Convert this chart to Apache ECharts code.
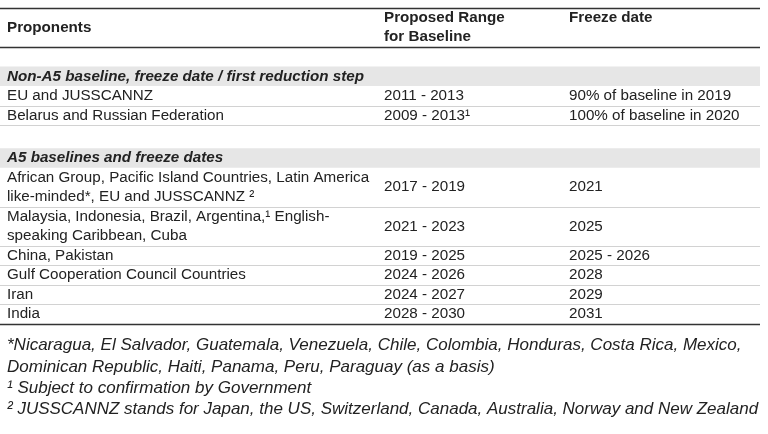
<!DOCTYPE html>
<html>
<head>
<meta charset="utf-8">
<script src="https://cdn.jsdelivr.net/npm/echarts@6/dist/echarts.min.js"></script>
<style>
  html, body { margin: 0; padding: 0; background: #fff; }
  #chart-container { width: 768px; height: 434px; }
</style>
</head>
<body>
<div id="chart-container"></div>
<script>
// --- table content ---
const columnTitles = ['Proponents', 'Proposed Range\nfor Baseline', 'Freeze date'];
const sectionTitles = [
  'Non-A5 baseline, freeze date / first reduction step',
  'A5 baselines and freeze dates'
];
const proponents = [
  'EU and JUSSCANNZ',
  'Belarus and Russian Federation',
  'African Group, Pacific Island Countries, Latin America\nlike-minded*, EU and JUSSCANNZ \u00b2',
  'Malaysia, Indonesia, Brazil, Argentina,\u00b9 English-\nspeaking Caribbean, Cuba',
  'China, Pakistan',
  'Gulf Cooperation Council Countries',
  'Iran',
  'India'
];
const baselineRanges = [
  '2011 - 2013', '2009 - 2013\u00b9', '2017 - 2019', '2021 - 2023',
  '2019 - 2025', '2024 - 2026', '2024 - 2027', '2028 - 2030'
];
const freezeDates = [
  '90% of baseline in 2019', '100% of baseline in 2020', '2021', '2025',
  '2025 - 2026', '2028', '2029', '2031'
];
const rowSection = [0, 0, 1, 1, 1, 1, 1, 1];
const footnotes = [
  '*Nicaragua, El Salvador, Guatemala, Venezuela, Chile, Colombia, Honduras, Costa Rica, Mexico,',
  'Dominican Republic, Haiti, Panama, Peru, Paraguay (as a basis)',
  '\u00b9 Subject to confirmation by Government',
  '\u00b2 JUSSCANNZ stands for Japan, the US, Switzerland, Canada, Australia, Norway and New Zealand'
];

// --- layout (x in table pixels, y in text-line units) ---
const tableWidth = 760;
const colX = [7, 384, 569];
const sectionGaps = [1, 1.18]; // blank space above each section band
const font = '"Liberation Sans", Arial, sans-serif';
const textColor = '#222';

function lineCount(s) { return s.split('\n').length; }

// Builds the list of table blocks stacked top to bottom
const layout = [];
let cursor = 0;
layout.push({ kind: 'header', y0: cursor, y1: cursor + 2 });
cursor += 2;
for (let s = 0; s < sectionTitles.length; s++) {
  cursor += sectionGaps[s];
  layout.push({ kind: 'section', idx: s, y0: cursor, y1: cursor + 1 });
  cursor += 1;
  for (let i = 0; i < proponents.length; i++) {
    if (rowSection[i] !== s) continue;
    const n = lineCount(proponents[i]);
    layout.push({ kind: 'row', idx: i, y0: cursor, y1: cursor + n });
    cursor += n;
  }
}
const totalUnits = cursor;

function txt(x, y, text, lh, opts) {
  return {
    type: 'text', x: x, y: y,
    style: Object.assign({
      text: text, fill: textColor, fontFamily: font, fontSize: 15.2,
      align: 'left', verticalAlign: 'middle', lineHeight: lh
    }, opts || {})
  };
}

function hline(x0, x1, y, color, width) {
  const yy = Math.round(y) + 0.5;
  return { type: 'line', shape: { x1: x0, y1: yy, x2: x1, y2: yy }, style: { stroke: color, lineWidth: width } };
}

function renderBlock(params, api) {
  const r = layout[params.dataIndex];
  const tl = api.coord([0, r.y0]);
  const br = api.coord([tableWidth, r.y1]);
  const unit = (br[1] - tl[1]) / (r.y1 - r.y0);
  const midY = (tl[1] + br[1]) / 2;
  const cx = colX.map(v => api.coord([v, 0])[0]);
  const children = [];

  if (r.kind === 'header') {
    children.push(hline(tl[0], br[0], tl[1], '#333', 1.4));
    children.push(hline(tl[0], br[0], br[1], '#333', 1.4));
    children.push(txt(cx[0], midY, columnTitles[0], unit, { fontWeight: 'bold' }));
    children.push(txt(cx[1], midY, columnTitles[1], unit, { fontWeight: 'bold' }));
    children.push(txt(cx[2], tl[1] + unit / 2, columnTitles[2], unit, { fontWeight: 'bold' }));
  } else if (r.kind === 'section') {
    children.push({
      type: 'rect',
      shape: { x: tl[0], y: tl[1], width: br[0] - tl[0], height: br[1] - tl[1] },
      style: { fill: '#e6e6e6' }
    });
    children.push(txt(cx[0], midY, sectionTitles[r.idx], unit, { fontWeight: 'bold', fontStyle: 'italic' }));
  } else {
    const last = r.idx === proponents.length - 1;
    children.push(hline(tl[0], br[0], br[1], last ? '#333' : '#d2d2d2', last ? 1.4 : 1));
    children.push(txt(cx[0], midY, proponents[r.idx], unit));
    children.push(txt(cx[1], midY, baselineRanges[r.idx], unit));
    children.push(txt(cx[2], midY, freezeDates[r.idx], unit));
  }
  return { type: 'group', children: children };
}

const chartDom = document.getElementById('chart-container');
const myChart = echarts.init(chartDom, null, { renderer: 'canvas' });

const option = {
  backgroundColor: '#fff',
  animation: false,
  title: {
    text: footnotes.join('\n'),
    left: 7,
    top: 335,
    padding: 0,
    textStyle: {
      fontFamily: font,
      fontStyle: 'italic',
      fontWeight: 'normal',
      fontSize: 17,
      lineHeight: 21.2,
      color: textColor
    }
  },
  grid: { left: 0, right: 8, top: 8, height: 316 },
  xAxis: { type: 'value', min: 0, max: tableWidth, show: false },
  yAxis: { type: 'value', min: 0, max: totalUnits, inverse: true, show: false },
  series: [{
    type: 'custom',
    renderItem: renderBlock,
    data: layout.map(r => [r.y0, r.y1]),
    encode: { y: [0, 1] },
    silent: true
  }]
};
myChart.setOption(option);
</script>
</body>
</html>
